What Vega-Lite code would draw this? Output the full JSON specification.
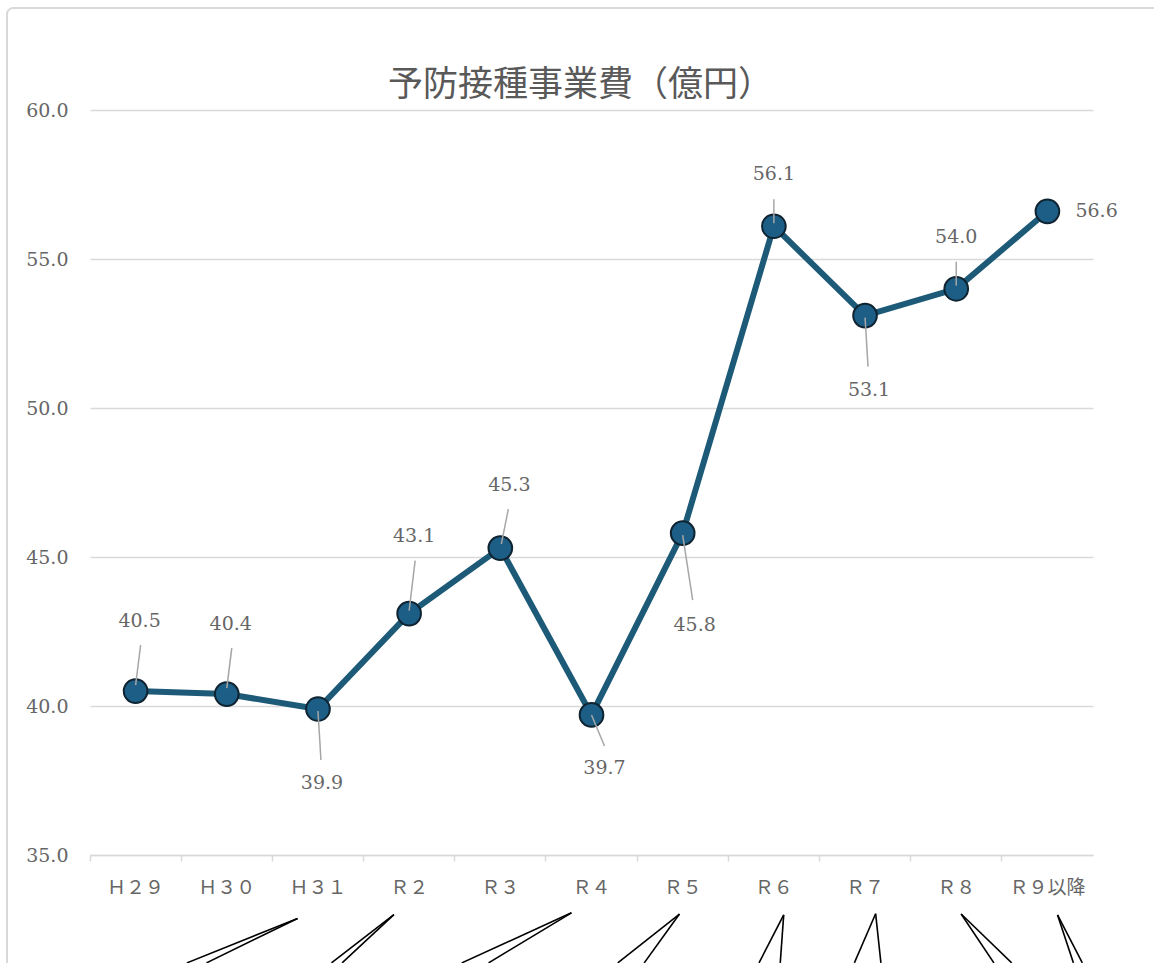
{
  "$schema": "https://vega.github.io/schema/vega-lite/v6.json",
  "autosize": "none",
  "width": 1003,
  "height": 745,
  "padding": {"left": 90, "top": 110, "right": 61, "bottom": 108},
  "background": "white",
  "config": {"view": {"stroke": null}, "font": "DejaVu Serif"},
  "title": {
    "text": "予防接種事業費（億円）",
    "font": "Noto Sans CJK JP",
    "fontSize": 35,
    "fontWeight": "normal",
    "color": "#595959",
    "frame": "group",
    "anchor": "middle",
    "dx": -11,
    "offset": -96
  },
  "datasets": {
    "cost": [
      {"period": "Ｈ２９", "value": 40.5},
      {"period": "Ｈ３０", "value": 40.4},
      {"period": "Ｈ３１", "value": 39.9},
      {"period": "Ｒ２", "value": 43.1},
      {"period": "Ｒ３", "value": 45.3},
      {"period": "Ｒ４", "value": 39.7},
      {"period": "Ｒ５", "value": 45.8},
      {"period": "Ｒ６", "value": 56.1},
      {"period": "Ｒ７", "value": 53.1},
      {"period": "Ｒ８", "value": 54.0},
      {"period": "Ｒ９以降", "value": 56.6}
    ],
    "callouts": [
      {"x": 2.276, "y": 32.87, "x2": 1.062, "y2": 31.38},
      {"x": 2.276, "y": 32.87, "x2": 1.277, "y2": 31.38},
      {"x": 3.333, "y": 33.0, "x2": 2.648, "y2": 31.38},
      {"x": 3.333, "y": 33.0, "x2": 2.765, "y2": 31.38},
      {"x": 5.28, "y": 33.06, "x2": 4.077, "y2": 31.38},
      {"x": 5.28, "y": 33.06, "x2": 4.371, "y2": 31.38},
      {"x": 6.465, "y": 33.02, "x2": 5.788, "y2": 31.38},
      {"x": 6.465, "y": 33.02, "x2": 6.078, "y2": 31.38},
      {"x": 7.608, "y": 32.99, "x2": 7.337, "y2": 31.38},
      {"x": 7.608, "y": 32.99, "x2": 7.57, "y2": 31.38},
      {"x": 8.616, "y": 33.03, "x2": 8.383, "y2": 31.38},
      {"x": 8.616, "y": 33.03, "x2": 8.674, "y2": 31.38},
      {"x": 9.554, "y": 33.02, "x2": 9.913, "y2": 31.38},
      {"x": 9.554, "y": 33.02, "x2": 10.108, "y2": 31.38},
      {"x": 10.611, "y": 32.99, "x2": 10.785, "y2": 31.38},
      {"x": 10.611, "y": 32.99, "x2": 10.883, "y2": 31.38}
    ],
    "frame": [
      {"x": -0.91, "y": 63.42, "x2": 12.1, "y2": 30.1}
    ]
  },
  "resolve": {"scale": {"x": "independent"}, "axis": {"x": "independent", "y": "independent"}},
  "layer": [
    {
      "layer": [
        {
          "data": {"name": "frame"},
          "mark": {"type": "rect", "filled": false, "stroke": "#d9d9d9", "strokeWidth": 2, "cornerRadius": 6},
          "encoding": {
            "x": {"field": "x", "type": "quantitative", "scale": {"domain": [0, 11], "nice": false, "zero": false}, "axis": null},
            "x2": {"field": "x2"},
            "y": {"field": "y", "type": "quantitative", "scale": {"domain": [35, 60], "nice": false, "zero": false}, "axis": null},
            "y2": {"field": "y2"}
          }
        },
        {
          "data": {"name": "callouts"},
          "mark": {"type": "rule", "color": "#000000", "strokeWidth": 1.6},
          "encoding": {
            "x": {"field": "x", "type": "quantitative", "scale": {"domain": [0, 11], "nice": false, "zero": false}, "axis": null},
            "x2": {"field": "x2"},
            "y": {"field": "y", "type": "quantitative", "scale": {"domain": [35, 60], "nice": false, "zero": false}, "axis": null},
            "y2": {"field": "y2"}
          }
        }
      ]
    },
    {
      "data": {"name": "cost"},
      "encoding": {
        "x": {
          "field": "period",
          "type": "nominal",
          "sort": null,
          "scale": {
            "type": "band",
            "domain": ["Ｈ２９", "Ｈ３０", "Ｈ３１", "Ｒ２", "Ｒ３", "Ｒ４", "Ｒ５", "Ｒ６", "Ｒ７", "Ｒ８", "Ｒ９以降"],
            "paddingInner": 0,
            "paddingOuter": 0
          },
          "axis": {
            "title": null,
            "labelAngle": 0,
            "bandPosition": 0,
            "domain": true,
            "domainColor": "#d9d9d9",
            "domainWidth": 1.5,
            "ticks": true,
            "tickColor": "#d9d9d9",
            "tickWidth": 1.5,
            "tickSize": 6,
            "grid": false,
            "labelFont": "Noto Sans CJK JP",
            "labelFontSize": 19,
            "labelColor": "#666666",
            "labelPadding": 17
          }
        },
        "y": {
          "field": "value",
          "type": "quantitative",
          "scale": {"domain": [35, 60], "nice": false, "zero": false},
          "axis": {
            "title": null,
            "values": [35, 40, 45, 50, 55, 60],
            "format": ".1f",
            "grid": true,
            "gridColor": "#d9d9d9",
            "gridWidth": 1.5,
            "domain": false,
            "ticks": false,
            "labelPadding": 22,
            "labelFont": "DejaVu Serif",
            "labelFontSize": 19,
            "labelColor": "#666666"
          }
        }
      },
      "layer": [
        {"mark": {"type": "line", "color": "#1d5a78", "strokeWidth": 6}},
        {"mark": {"type": "point", "shape": "circle", "filled": true, "fill": "#1c5e86", "stroke": "#0f2330", "strokeWidth": 2, "size": 560, "opacity": 1}},
        {
          "transform": [{"filter": {"field": "period", "oneOf": ["Ｈ２９", "Ｈ３０"]}}],
          "mark": {"type": "rule", "color": "#a6a6a6", "strokeWidth": 1.5, "xOffset": 5, "yOffset": -46, "x2Offset": 0, "y2Offset": -6},
          "encoding": {"x2": {"field": "period"}, "y2": {"field": "value"}}
        },
        {
          "transform": [{"filter": {"field": "period", "equal": "Ｒ２"}}],
          "mark": {"type": "rule", "color": "#a6a6a6", "strokeWidth": 1.5, "xOffset": 6, "yOffset": -53, "x2Offset": 0, "y2Offset": -3},
          "encoding": {"x2": {"field": "period"}, "y2": {"field": "value"}}
        },
        {
          "transform": [{"filter": {"field": "period", "equal": "Ｒ３"}}],
          "mark": {"type": "rule", "color": "#a6a6a6", "strokeWidth": 1.5, "xOffset": 8, "yOffset": -39, "x2Offset": 1, "y2Offset": -4},
          "encoding": {"x2": {"field": "period"}, "y2": {"field": "value"}}
        },
        {
          "transform": [{"filter": {"field": "period", "oneOf": ["Ｒ６", "Ｒ８"]}}],
          "mark": {"type": "rule", "color": "#a6a6a6", "strokeWidth": 1.5, "xOffset": 0, "yOffset": -27, "x2Offset": 0, "y2Offset": -3},
          "encoding": {"x2": {"field": "period"}, "y2": {"field": "value"}}
        },
        {
          "transform": [{"filter": {"field": "period", "oneOf": ["Ｈ３１", "Ｒ７"]}}],
          "mark": {"type": "rule", "color": "#a6a6a6", "strokeWidth": 1.5, "xOffset": 0, "yOffset": 2, "x2Offset": 3, "y2Offset": 51},
          "encoding": {"x2": {"field": "period"}, "y2": {"field": "value"}}
        },
        {
          "transform": [{"filter": {"field": "period", "equal": "Ｒ４"}}],
          "mark": {"type": "rule", "color": "#a6a6a6", "strokeWidth": 1.5, "xOffset": 0, "yOffset": 0, "x2Offset": 13, "y2Offset": 31},
          "encoding": {"x2": {"field": "period"}, "y2": {"field": "value"}}
        },
        {
          "transform": [{"filter": {"field": "period", "equal": "Ｒ５"}}],
          "mark": {"type": "rule", "color": "#a6a6a6", "strokeWidth": 1.5, "xOffset": 0, "yOffset": 2, "x2Offset": 10, "y2Offset": 67},
          "encoding": {"x2": {"field": "period"}, "y2": {"field": "value"}}
        },
        {
          "transform": [{"filter": {"field": "period", "oneOf": ["Ｈ２９", "Ｈ３０"]}}],
          "mark": {"type": "text", "dx": 4, "dy": -70, "font": "DejaVu Serif", "fontSize": 19, "fill": "#666666", "baseline": "middle"},
          "encoding": {"text": {"field": "value", "type": "quantitative", "format": ".1f"}}
        },
        {
          "transform": [{"filter": {"field": "period", "equal": "Ｒ２"}}],
          "mark": {"type": "text", "dx": 5, "dy": -78, "font": "DejaVu Serif", "fontSize": 19, "fill": "#666666", "baseline": "middle"},
          "encoding": {"text": {"field": "value", "type": "quantitative", "format": ".1f"}}
        },
        {
          "transform": [{"filter": {"field": "period", "equal": "Ｒ３"}}],
          "mark": {"type": "text", "dx": 9, "dy": -63, "font": "DejaVu Serif", "fontSize": 19, "fill": "#666666", "baseline": "middle"},
          "encoding": {"text": {"field": "value", "type": "quantitative", "format": ".1f"}}
        },
        {
          "transform": [{"filter": {"field": "period", "oneOf": ["Ｒ６", "Ｒ８"]}}],
          "mark": {"type": "text", "dx": 0, "dy": -52, "font": "DejaVu Serif", "fontSize": 19, "fill": "#666666", "baseline": "middle"},
          "encoding": {"text": {"field": "value", "type": "quantitative", "format": ".1f"}}
        },
        {
          "transform": [{"filter": {"field": "period", "oneOf": ["Ｈ３１", "Ｒ７"]}}],
          "mark": {"type": "text", "dx": 4, "dy": 74, "font": "DejaVu Serif", "fontSize": 19, "fill": "#666666", "baseline": "middle"},
          "encoding": {"text": {"field": "value", "type": "quantitative", "format": ".1f"}}
        },
        {
          "transform": [{"filter": {"field": "period", "equal": "Ｒ４"}}],
          "mark": {"type": "text", "dx": 13, "dy": 53, "font": "DejaVu Serif", "fontSize": 19, "fill": "#666666", "baseline": "middle"},
          "encoding": {"text": {"field": "value", "type": "quantitative", "format": ".1f"}}
        },
        {
          "transform": [{"filter": {"field": "period", "equal": "Ｒ５"}}],
          "mark": {"type": "text", "dx": 12, "dy": 92, "font": "DejaVu Serif", "fontSize": 19, "fill": "#666666", "baseline": "middle"},
          "encoding": {"text": {"field": "value", "type": "quantitative", "format": ".1f"}}
        },
        {
          "transform": [{"filter": {"field": "period", "equal": "Ｒ９以降"}}],
          "mark": {"type": "text", "dx": 28, "dy": 0, "align": "left", "font": "DejaVu Serif", "fontSize": 19, "fill": "#666666", "baseline": "middle"},
          "encoding": {"text": {"field": "value", "type": "quantitative", "format": ".1f"}}
        }
      ]
    }
  ]
}
